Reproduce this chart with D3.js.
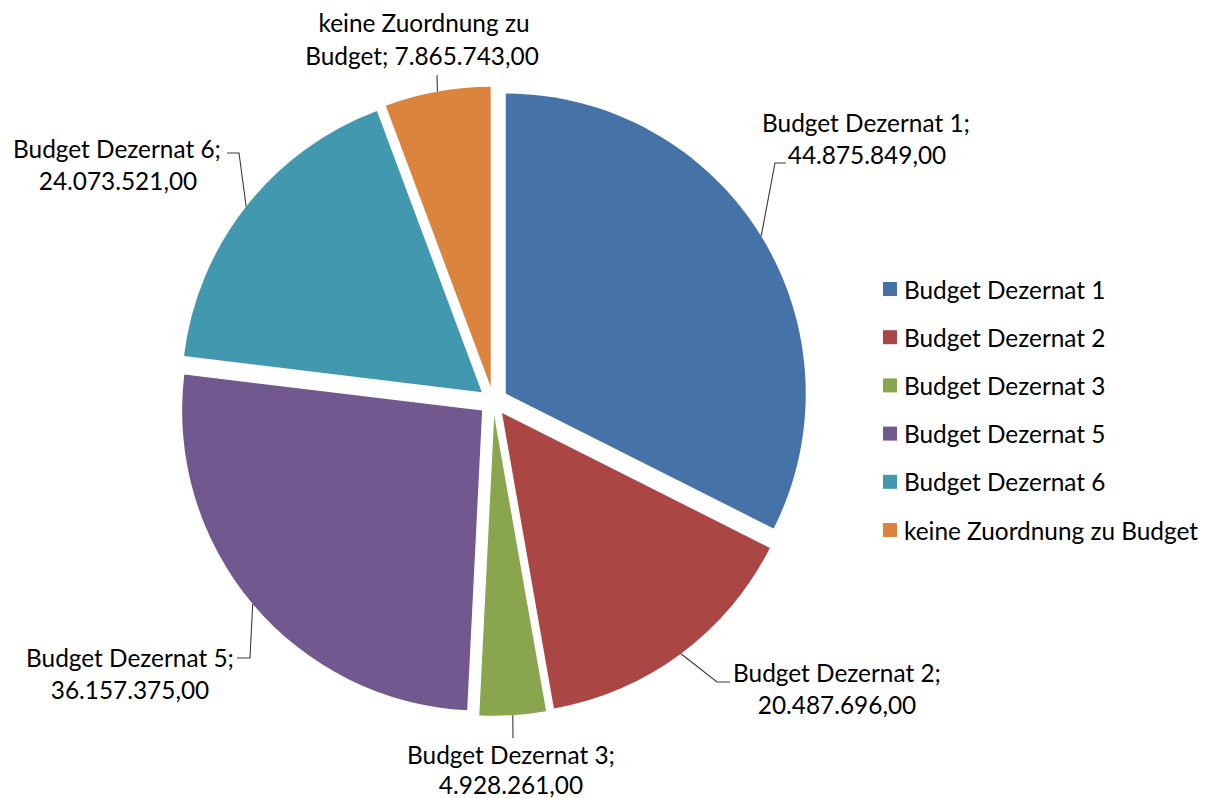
<!DOCTYPE html>
<html><head><meta charset="utf-8">
<script src="https://cdn.jsdelivr.net/npm/d3@7"></script>
<style>body{margin:0;background:#fff}svg{display:block}</style>
</head><body>
<svg id="c" width="1213" height="798"></svg>
<script>
const categories = ["Budget Dezernat 1","Budget Dezernat 2","Budget Dezernat 3","Budget Dezernat 5","Budget Dezernat 6","keine Zuordnung zu Budget"];
const values = [44875849, 20487696, 4928261, 36157375, 24073521, 7865743];
const valueLabels = ["44.875.849,00","20.487.696,00","4.928.261,00","36.157.375,00","24.073.521,00","7.865.743,00"];
const colors = ["#4572A7","#AA4643","#89A54E","#71588F","#4198AF","#DB843D"];

// layout (not data)
const cx = 493.3, cy = 401.2, R = 300, explode = 14.6;
const labelLayout = [
  {lines:["Budget Dezernat 1;", valueLabels[0]], pos:[[866,122],[867,154]], path:[[775,163],[786,163]]},
  {lines:["Budget Dezernat 2;", valueLabels[1]], pos:[[837,672],[837,704]], path:[[717,682],[730,682]]},
  {lines:["Budget Dezernat 3;", valueLabels[2]], pos:[[511,754],[511,784]], path:[[513,738]]},
  {lines:["Budget Dezernat 5;", valueLabels[3]], pos:[[130,657],[130,689]], path:[[250,658],[237,658]]},
  {lines:["Budget Dezernat 6;", valueLabels[4]], pos:[[117,148],[118,180]], path:[[239,153],[227,153]]},
  {lines:["keine Zuordnung zu", "Budget; " + valueLabels[5]], pos:[[424,22],[422,55]], path:[[437,75]]}
];

const svg = d3.select("#c");
const fontFamily = "Lato, 'Open Sans', sans-serif";
// calibrate font size to match reference width
const probe = svg.append("text").attr("font-family", fontFamily).attr("font-size", 22).text("Budget Dezernat 1;");
const w = probe.node().getComputedTextLength();
probe.remove();
const fs = 22 * 208 / w;

const pie = d3.pie().sort(null).value(d => d)(values);
const arc = d3.arc().innerRadius(0).outerRadius(R);

const g = svg.append("g").attr("transform", `translate(${cx},${cy})`);
pie.forEach((p, i) => {
  const mid = (p.startAngle + p.endAngle) / 2;
  const ox = explode * Math.sin(mid), oy = -explode * Math.cos(mid);
  g.append("path").attr("d", arc(p)).attr("fill", colors[i])
    .attr("transform", `translate(${ox},${oy})`);
  // leader line start on the arc middle
  const sx = cx + ox + R * Math.sin(mid), sy = cy + oy - R * Math.cos(mid);
  const L = labelLayout[i];
  const pts = [[sx, sy]].concat(L.path);
  svg.append("path").attr("d", d3.line()(pts)).attr("fill", "none")
    .attr("stroke", "#3a3a3a").attr("stroke-width", 1.1);
  L.lines.forEach((t, j) => {
    svg.append("text").attr("x", L.pos[j][0]).attr("y", L.pos[j][1])
      .attr("text-anchor", "middle").attr("dominant-baseline", "central")
      .attr("font-family", fontFamily).attr("font-size", fs).attr("fill", "#000").text(t);
  });
});

// legend
const legY = d3.scalePoint().domain(categories).range([289, 530]);
const lg = svg.append("g");
categories.forEach((c, i) => {
  const y = legY(c);
  lg.append("rect").attr("x", 883).attr("y", y - 7).attr("width", 14).attr("height", 14).attr("fill", colors[i]);
  lg.append("text").attr("x", 904).attr("y", y).attr("dominant-baseline", "central")
    .attr("font-family", fontFamily).attr("font-size", fs).attr("fill", "#000").text(c);
});
</script>
</body></html>
